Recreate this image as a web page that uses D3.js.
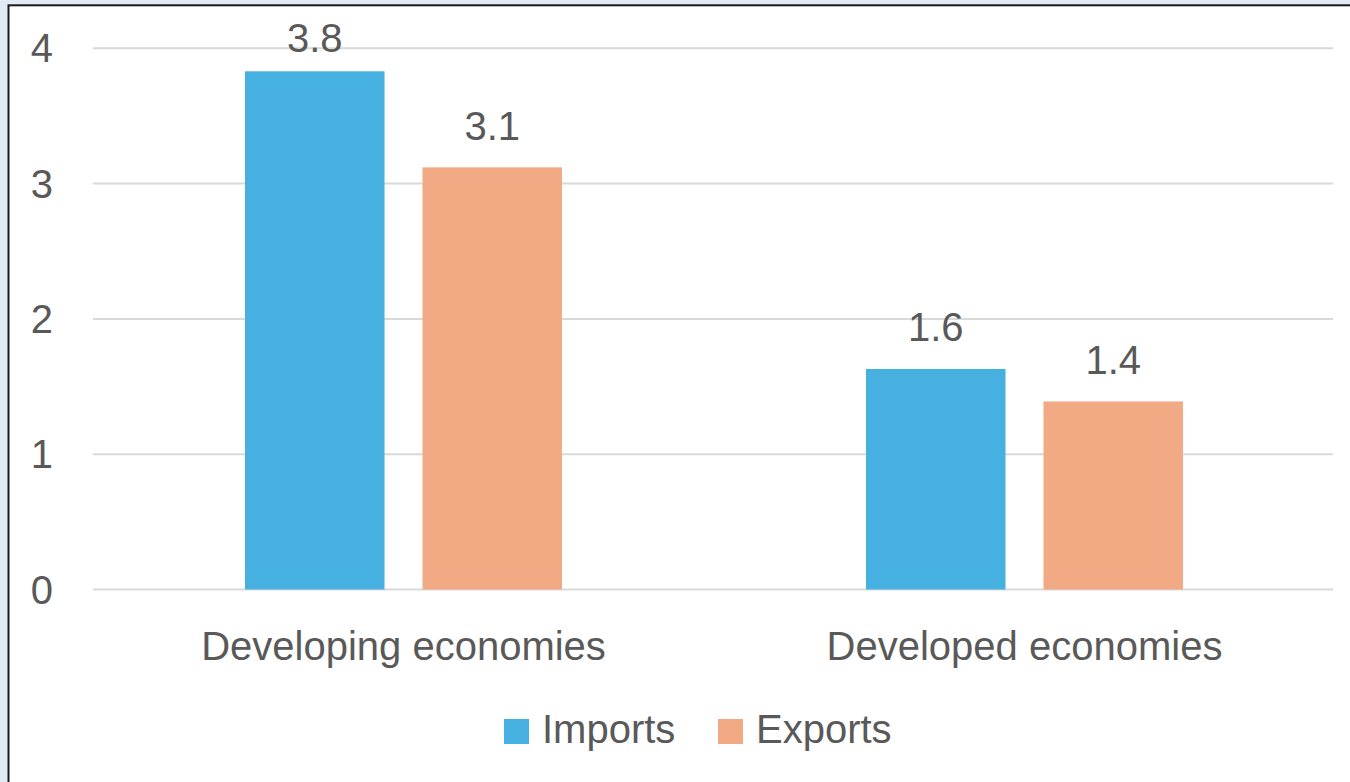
<!DOCTYPE html>
<html>
<head>
<meta charset="utf-8">
<script src="https://cdn.jsdelivr.net/npm/d3@7"></script>
<style>
  html, body { margin: 0; padding: 0; background: #E2EBF5; }
  svg { display: block; }
  text { font-family: "Liberation Sans", Arial, sans-serif; fill: #595959; }
</style>
</head>
<body>
<svg id="chart" width="1350" height="782"></svg>
<script>
const categories = ["Developing economies", "Developed economies"];
const seriesNames = ["Imports", "Exports"];
const importsValues = [3.83, 1.63];
const exportsValues = [3.12, 1.39];
const valueLabels = [["3.8", "1.6"], ["3.1", "1.4"]];
const yTicks = [0, 1, 2, 3, 4];
const colors = ["#46B0E0", "#F2AA84"];

const seriesValues = [importsValues, exportsValues];

const svg = d3.select("#chart");
const W = 1350, H = 782;

// chart area background + frame
svg.append("rect").attr("x", 8.5).attr("y", 5.3).attr("width", W + 10).attr("height", H + 10)
  .attr("fill", "#ffffff").attr("stroke", "#1a1a1a").attr("stroke-width", 2);

const plotLeft = 93, plotRight = 1335, plotTop = 48.3, plotBottom = 589.5;

const x0 = d3.scaleBand().domain(categories).range([plotLeft, plotRight]).paddingInner(0).paddingOuter(0);
const x1 = d3.scaleBand().domain(seriesNames).range([-158.5, 158.5]).paddingInner(0.214).paddingOuter(0);
const y = d3.scaleLinear().domain([0, 4]).range([plotBottom, plotTop]);

// gridlines
const grid = svg.append("g");
grid.selectAll("line").data(yTicks).enter().append("line")
  .attr("x1", plotLeft).attr("x2", plotRight - 2)
  .attr("y1", d => y(d)).attr("y2", d => y(d))
  .attr("stroke", "#D9D9D9").attr("stroke-width", 2);

// y tick labels
svg.append("g").selectAll("text").data(yTicks).enter().append("text")
  .attr("x", 53).attr("y", d => y(d) + 14)
  .attr("text-anchor", "end").attr("font-size", 40)
  .text(d => d);

// bars
const groups = svg.append("g").selectAll("g").data(categories).enter().append("g")
  .attr("transform", c => `translate(${x0(c) + x0.bandwidth() / 2},0)`);

seriesNames.forEach((s, si) => {
  groups.append("rect")
    .attr("x", x1(s))
    .attr("width", x1.bandwidth())
    .attr("y", (c, ci) => y(seriesValues[si][ci]))
    .attr("height", (c, ci) => y(0) - y(seriesValues[si][ci]))
    .attr("fill", colors[si]);
  groups.append("text")
    .attr("x", x1(s) + x1.bandwidth() / 2)
    .attr("y", (c, ci) => Math.max(y(seriesValues[si][ci]) - 27.5, 52))
    .attr("text-anchor", "middle").attr("font-size", 40)
    .text((c, ci) => valueLabels[si][ci]);
});

// category labels
svg.append("g").selectAll("text").data(categories).enter().append("text")
  .attr("x", c => x0(c) + x0.bandwidth() / 2)
  .attr("y", 660)
  .attr("text-anchor", "middle").attr("font-size", 40)
  .text(c => c);

// legend
const legendX = [504, 718];
const leg = svg.append("g").selectAll("g").data(seriesNames).enter().append("g")
  .attr("transform", (s, i) => `translate(${legendX[i]},719)`);
leg.append("rect").attr("width", 25).attr("height", 25).attr("fill", (s, i) => colors[i]);
leg.append("text").attr("x", 38).attr("y", 24).attr("font-size", 40).text(s => s);
</script>
</body>
</html>
